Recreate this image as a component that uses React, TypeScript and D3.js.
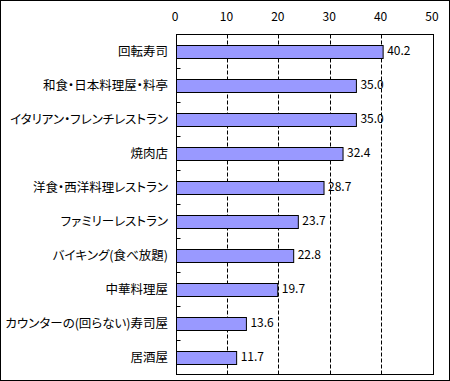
import React from "react";
import * as d3 from "d3";

const categories = [
  "回転寿司",
  "和食・日本料理屋・料亭",
  "イタリアン・フレンチレストラン",
  "焼肉店",
  "洋食・西洋料理レストラン",
  "ファミリーレストラン",
  "バイキング(食べ放題)",
  "中華料理屋",
  "カウンターの(回らない)寿司屋",
  "居酒屋",
];
const values = [40.2, 35.0, 35.0, 32.4, 28.7, 23.7, 22.8, 19.7, 13.6, 11.7];
const xTicks = [0, 10, 20, 30, 40, 50];

const W = 450;
const H = 381;
const FONT = "'Noto Sans CJK JP', 'Noto Sans', sans-serif";

export default function App() {
  const x = d3.scaleLinear().domain([0, 50]).range([176.5, 433.5]);
  const y = d3.scaleBand<string>().domain(categories).range([34.5, 374.5]).padding(0);
  const bw = y.bandwidth();
  const barH = 13;
  const [x0, x1] = x.range();
  const [y0, y1] = y.range();

  return (
    <svg
      width={W}
      height={H}
      style={{ position: "absolute", left: 0, top: 0, background: "#fff" }}
      fontFamily={FONT}
    >
      <rect x={0.5} y={0.5} width={W - 1} height={H - 1} fill="#fff" stroke="#000" strokeWidth={1} />
      {/* grid lines */}
      {xTicks.slice(1, -1).map((t) => (
        <line
          key={"g" + t}
          x1={Math.round(x(t)) - 0.5}
          x2={Math.round(x(t)) - 0.5}
          y1={y0}
          y2={y1}
          stroke="#000"
          strokeWidth={1}
          strokeDasharray="4,2"
        />
      ))}
      {/* axis tick labels */}
      {xTicks.map((t) => (
        <text
          key={"t" + t}
          x={x(t) - 1.5}
          y={21}
          textAnchor="middle"
          fontSize={12}
          fill="#000"
        >
          {t}
        </text>
      ))}
      {/* category ticks */}
      {d3.range(categories.length + 1).map((i) => (
        <line
          key={"ct" + i}
          x1={x0}
          x2={x0 + 4}
          y1={y0 + i * bw}
          y2={y0 + i * bw}
          stroke="#000"
        />
      ))}
      {/* bars */}
      {categories.map((c, i) => {
        const cy = (y(c) as number) + bw / 2 - 0.5;
        return (
          <g key={c}>
            <rect
              x={x(0)}
              y={Math.round(cy - barH / 2) + 0.5}
              width={x(values[i]) - x(0)}
              height={barH}
              fill="#9999FF"
              stroke="#000"
              strokeWidth={1}
            />
            <text
              x={x(values[i]) + 4}
              y={cy}
              dy="0.36em"
              fontSize={12}
              fill="#000"
            >
              {values[i].toFixed(1)}
            </text>
            <text
              x={168}
              y={cy}
              dy="0.36em"
              textAnchor="end"
              fontSize={12.5}
              fill="#000"
              style={{ fontFeatureSettings: "'palt'" }}
            >
              {c}
            </text>
          </g>
        );
      })}
      {/* plot frame */}
      <rect x={x0} y={y0} width={x1 - x0} height={y1 - y0} fill="none" stroke="#000" strokeWidth={1} />
    </svg>
  );
}
